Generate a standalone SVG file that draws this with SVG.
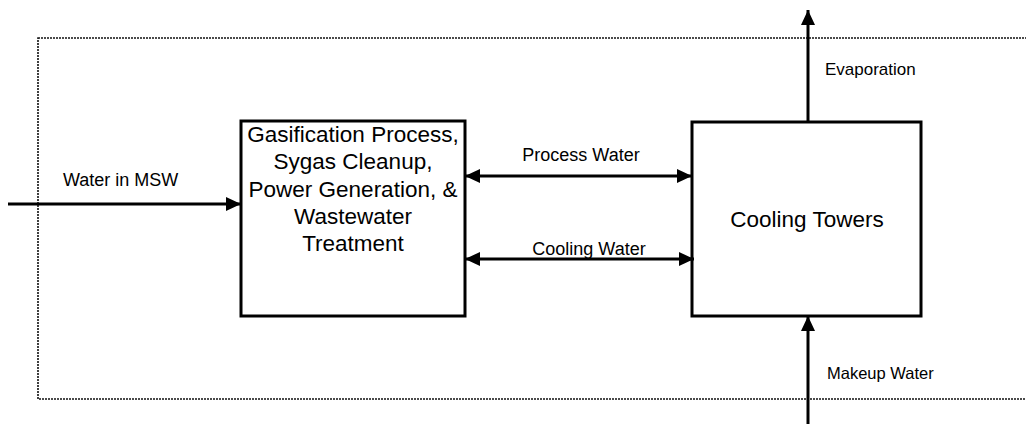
<svg xmlns="http://www.w3.org/2000/svg" width="1026" height="424" viewBox="0 0 1026 424">
<style>
.box{fill:#fff;stroke:#000;stroke-width:3}
.bt{font-family:"Liberation Sans",Arial,sans-serif;font-size:22.5px;fill:#000;text-anchor:middle}
.lbl{font-family:"Liberation Sans",Arial,sans-serif;font-size:18px;fill:#000}
.con{stroke:#000;stroke-width:3;fill:none}
.bound{fill:none;stroke:#111;stroke-width:1.6;stroke-dasharray:2 1}
</style>
<defs>
<marker id="ah" markerUnits="userSpaceOnUse" markerWidth="16" markerHeight="14" refX="15" refY="7" orient="auto-start-reverse" viewBox="0 0 16 14">
<path d="M0,0 L15,7 L0,14 z" fill="#000"/>
</marker>
</defs>
<rect class="bound" x="38" y="38" width="1000" height="361"/>
<g id="gasification">
<rect class="box" x="241" y="121" width="224" height="195"/>
<text class="bt" x="353" y="142">Gasification Process,</text>
<text class="bt" x="353" y="169">Sygas Cleanup,</text>
<text class="bt" x="353" y="197">Power Generation, &amp;</text>
<text class="bt" x="353" y="224">Wastewater</text>
<text class="bt" x="353" y="251">Treatment</text>
</g>
<g id="cooling-towers">
<rect class="box" x="692" y="122" width="229" height="194"/>
<text class="bt" x="807" y="227">Cooling Towers</text>
</g>
<g id="connectors">
<line class="con" x1="8" y1="204" x2="241" y2="204" marker-end="url(#ah)"/>
<line class="con" x1="465" y1="176" x2="692" y2="176" marker-start="url(#ah)" marker-end="url(#ah)"/>
<line class="con" x1="465" y1="259" x2="694" y2="259" marker-start="url(#ah)" marker-end="url(#ah)"/>
<line class="con" x1="808" y1="122" x2="808" y2="10" marker-end="url(#ah)"/>
<line class="con" x1="808" y1="424" x2="808" y2="316" marker-end="url(#ah)"/>
<text class="lbl" x="63" y="186">Water in MSW</text>
<text class="lbl" x="581" y="161" text-anchor="middle">Process Water</text>
<text class="lbl" x="589" y="255" text-anchor="middle">Cooling Water</text>
<text class="lbl" x="825" y="75" style="font-size:17px">Evaporation</text>
<text class="lbl" x="827" y="379" style="font-size:16.5px">Makeup Water</text>
</g>
</svg>
